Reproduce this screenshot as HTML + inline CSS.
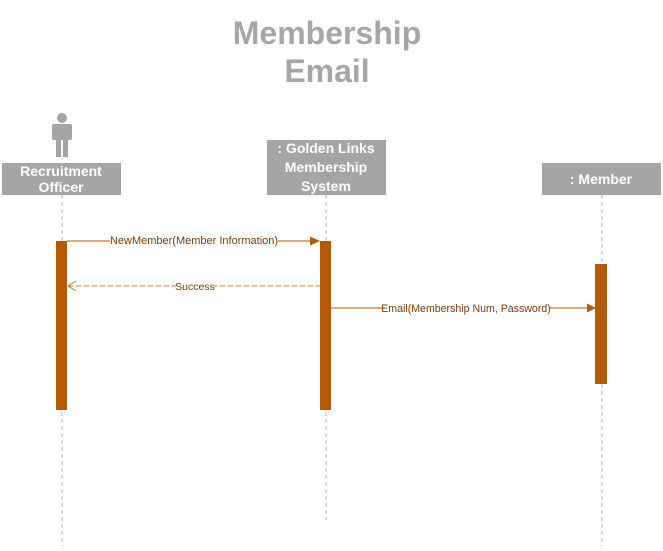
<!DOCTYPE html>
<html><head><meta charset="utf-8"><style>
body{margin:0;background:#fff;width:663px;height:546px;overflow:hidden}
svg{font-family:"Liberation Sans",sans-serif}
</style></head><body>
<svg width="663" height="546">
<text x="327" y="44" text-anchor="middle" font-size="32" font-weight="bold" fill="#a6a6a6">Membership</text>
<text x="327" y="82" text-anchor="middle" font-size="32" font-weight="bold" fill="#a6a6a6">Email</text>
<g fill="#a5a5a5">
<circle cx="62" cy="118" r="5"/>
<rect x="52" y="124" width="20" height="16" rx="2"/>
<rect x="56" y="138" width="5" height="19"/><rect x="63" y="138" width="5" height="19"/>
</g>
<g stroke="#b0b0b0" stroke-dasharray="4,3" stroke-width="1">
<line x1="62" y1="195" x2="62" y2="546"/>
<line x1="326" y1="195" x2="326" y2="520"/>
<line x1="602" y1="195" x2="602" y2="546"/>
</g>
<g>
<rect x="2" y="163" width="119" height="32" fill="#a5a5a5"/>
<text x="61" y="176" text-anchor="middle" font-size="14" font-weight="bold" fill="#fff">Recruitment</text>
<text x="61" y="192" text-anchor="middle" font-size="14" font-weight="bold" fill="#fff">Officer</text>
</g>
<g>
<rect x="267" y="140" width="119" height="55" fill="#a5a5a5"/>
<text x="326" y="153" text-anchor="middle" font-size="14" font-weight="bold" fill="#fff">: Golden Links</text>
<text x="326" y="172" text-anchor="middle" font-size="14" font-weight="bold" fill="#fff">Membership</text>
<text x="326" y="191" text-anchor="middle" font-size="14" font-weight="bold" fill="#fff">System</text>
</g>
<g>
<rect x="542" y="163" width="119" height="32" fill="#a5a5a5"/>
<text x="601" y="184" text-anchor="middle" font-size="14" font-weight="bold" fill="#fff">: Member</text>
</g>
<rect x="56" y="241" width="11" height="169" fill="#b35a09"/>
<rect x="320" y="241" width="11" height="169" fill="#b35a09"/>
<rect x="595" y="264" width="12" height="120" fill="#b35a09"/>
<g>
<line x1="67" y1="241" x2="312" y2="241" stroke="#c07a3a" stroke-width="1.2"/>
<polygon points="320,241 310,236.5 310,245.5" fill="#b35a09"/>
<rect x="110" y="233" width="168" height="14" fill="#fff"/>
<text x="194" y="244" text-anchor="middle" font-size="11" fill="#7a3b0b">NewMember(Member Information)</text>
</g>
<g>
<line x1="68" y1="286" x2="320" y2="286" stroke="#c07a3a" stroke-dasharray="5,3"/>
<polyline points="76,281 68,286 76,291" fill="none" stroke="#c07a3a"/>
<rect x="176" y="279" width="38" height="14" fill="#fff"/>
<text x="195" y="290" text-anchor="middle" font-size="10.5" fill="#7a3b0b">Success</text>
</g>
<g>
<line x1="331" y1="308" x2="588" y2="308" stroke="#c07a3a" stroke-width="1.2"/>
<polygon points="596,308 587,303.5 587,312.5" fill="#b35a09"/>
<rect x="384" y="301" width="166" height="14" fill="#fff"/>
<text x="466" y="312" text-anchor="middle" font-size="10.6" fill="#7a3b0b">Email(Membership Num, Password)</text>
</g>
</svg>
</body></html>
